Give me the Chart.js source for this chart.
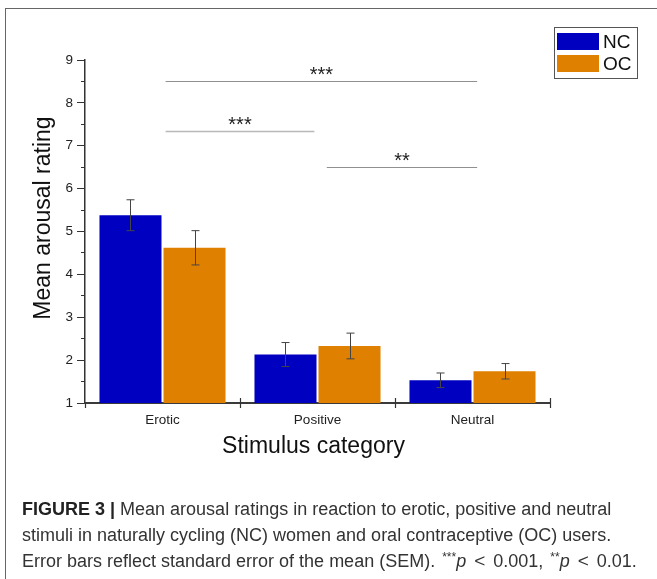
<!DOCTYPE html>
<html>
<head>
<meta charset="utf-8">
<script src="https://cdn.jsdelivr.net/npm/chart.js@4/dist/chart.umd.min.js"></script>
<style>
  body { margin: 0; background: #fff; }
  #wrap { position: relative; width: 657px; height: 579px; overflow: hidden; }
  #frame { position: absolute; left: 5px; top: 8px; width: 700px; height: 600px;
           border-left: 1.5px solid #666; border-top: 1.5px solid #666; pointer-events: none; }
  #chart { position: absolute; left: 0; top: 0; }
  #caption { position: absolute; left: 22px; top: 496px; width: 640px;
             font-family: "Liberation Sans", Arial, sans-serif; font-size: 18px;
             line-height: 26px; color: #333; white-space: nowrap; }
  #caption b { color: #222; }
  #caption sup { font-size: 12px; vertical-align: 6px; line-height: 0; margin-left: 2px; }
  #caption .lt { font-size: 19px; margin: 0 8px; }
</style>
</head>
<body>
<div id="wrap">
  <canvas id="chart" width="657" height="460"></canvas>
  <div id="frame"></div>
  <div id="caption">
    <b>FIGURE 3 |</b> Mean arousal ratings in reaction to erotic, positive and neutral<br>
    stimuli in naturally cycling (NC) women and oral contraceptive (OC) users.<br>
    Error bars reflect standard error of the mean (SEM). <sup>***</sup><i>p</i><span class="lt">&lt;</span>0.001, <sup>**</sup><i>p</i><span class="lt">&lt;</span>0.01.
  </div>
</div>
<script>
// data
var categories = ['Erotic', 'Positive', 'Neutral'];
var ncMeans = [5.38, 2.13, 1.53];
var ocMeans = [4.62, 2.33, 1.74];
var ncSem = [0.36, 0.28, 0.17];
var ocSem = [0.40, 0.30, 0.18];

// significance brackets (category index from / to, level on y axis)
var sigFrom = [0.02, 0.02, 1.06];
var sigTo = [2.03, 0.98, 2.03];
var sigLevel = [8.5, 7.35, 6.5];
var sigLabels = ['***', '***', '**'];

var FONT = '"Liberation Sans", Arial, sans-serif';

var extras = {
    id: 'extras',
    afterDraw: function(chart) {
        var ctx = chart.ctx;
        var x = chart.scales.x, y = chart.scales.y;
        var area = chart.chartArea;
        ctx.save();

        // cross ticks on the x axis at category boundaries
        var half = (x.getPixelForValue(1) - x.getPixelForValue(0)) / 2;
        ctx.strokeStyle = '#333';
        ctx.lineWidth = 1.2;
        for (var i = 0; i <= categories.length; i++) {
            var px = Math.round(x.getPixelForValue(0) - half + i * 2 * half) + 0.5;
            ctx.beginPath();
            ctx.moveTo(px, area.bottom - (i === 0 ? 0 : 5));
            ctx.lineTo(px, area.bottom + 5);
            ctx.stroke();
        }

        // error bars
        ctx.strokeStyle = '#444';
        ctx.lineWidth = 1;
        chart.data.datasets.forEach(function(ds, di) {
            var meta = chart.getDatasetMeta(di);
            meta.data.forEach(function(bar, i) {
                var v = ds.data[i], e = ds.sem[i];
                var cx = Math.round(bar.x) + 0.5;
                var top = y.getPixelForValue(v + e), bot = y.getPixelForValue(v - e);
                ctx.beginPath();
                ctx.moveTo(cx, top); ctx.lineTo(cx, bot);
                ctx.moveTo(cx - 4, top); ctx.lineTo(cx + 4, top);
                ctx.moveTo(cx - 4, bot); ctx.lineTo(cx + 4, bot);
                ctx.stroke();
            });
        });

        // significance lines
        ctx.fillStyle = '#222';
        ctx.font = '20px ' + FONT;
        ctx.textAlign = 'center';
        ctx.textBaseline = 'alphabetic';
        for (var s = 0; s < sigLabels.length; s++) {
            var x1 = x.getPixelForValue(sigFrom[s]), x2 = x.getPixelForValue(sigTo[s]);
            var ly = Math.round(y.getPixelForValue(sigLevel[s])) + 0.5;
            ctx.strokeStyle = s === 1 ? '#b8b8b8' : '#909090';
            ctx.lineWidth = s === 1 ? 1.5 : 1;
            ctx.beginPath();
            ctx.moveTo(x1, ly); ctx.lineTo(x2, ly);
            ctx.stroke();
            ctx.fillText(sigLabels[s], (x1 + x2) / 2, ly - 1);
        }

        // legend box
        ctx.strokeStyle = '#555';
        ctx.lineWidth = 1;
        ctx.strokeRect(554.5, 27.5, 83, 51);
        ctx.font = '19px ' + FONT;
        ctx.textAlign = 'left';
        ctx.textBaseline = 'middle';
        chart.data.datasets.forEach(function(ds, di) {
            var ty = 33 + di * 22;
            ctx.fillStyle = ds.backgroundColor;
            ctx.fillRect(557, ty, 42, 17);
            ctx.fillStyle = '#111';
            ctx.fillText(ds.label, 603, ty + 9.5);
        });

        // axis titles
        ctx.fillStyle = '#111';
        ctx.font = '23px ' + FONT;
        ctx.textAlign = 'center';
        ctx.fillText('Stimulus category', (area.left + area.right) / 2 - 4, 447);
        ctx.translate(44, 218);
        ctx.rotate(-Math.PI / 2);
        ctx.fillText('Mean arousal rating', 0, 0);
        ctx.restore();
    }
};

new Chart(document.getElementById('chart'), {
    type: 'bar',
    data: {
        labels: categories,
        datasets: [
            { label: 'NC', data: ncMeans, sem: ncSem, backgroundColor: '#0000c0',
              categoryPercentage: 0.826, barPercentage: 0.969 },
            { label: 'OC', data: ocMeans, sem: ocSem, backgroundColor: '#e08000',
              categoryPercentage: 0.826, barPercentage: 0.969 }
        ]
    },
    options: {
        responsive: false,
        animation: false,
        layout: { padding: { left: 0, top: 60, right: 107, bottom: 0 } },
        plugins: { legend: { display: false }, tooltip: { enabled: false } },
        scales: {
            x: {
                offset: true,
                grid: { display: false },
                border: { display: true, color: '#3a3a3a', width: 2 },
                ticks: { color: '#222', font: { family: FONT, size: 13.5 }, padding: 1 },
                afterFit: function(s) { s.height = 57; }
            },
            y: {
                min: 1, max: 9,
                grid: {
                    drawOnChartArea: false, tickLength: 8, tickColor: '#333', lineWidth: 1,
                    // half steps get a short tick: blank out the first part of the mark
                    tickBorderDash: function(c) {
                        return c.tick && !Number.isInteger(c.tick.value) ? [0, 4, 10, 0] : [];
                    }
                },
                border: { display: true, color: '#333', width: 1.5 },
                ticks: {
                    stepSize: 0.5, padding: 4, color: '#222',
                    font: { family: FONT, size: 13.5 },
                    callback: function(v) { return Number.isInteger(v) ? v : ''; }
                },
                afterFit: function(s) { s.width = 85; }
            }
        }
    },
    plugins: [extras]
});
</script>
</body>
</html>
